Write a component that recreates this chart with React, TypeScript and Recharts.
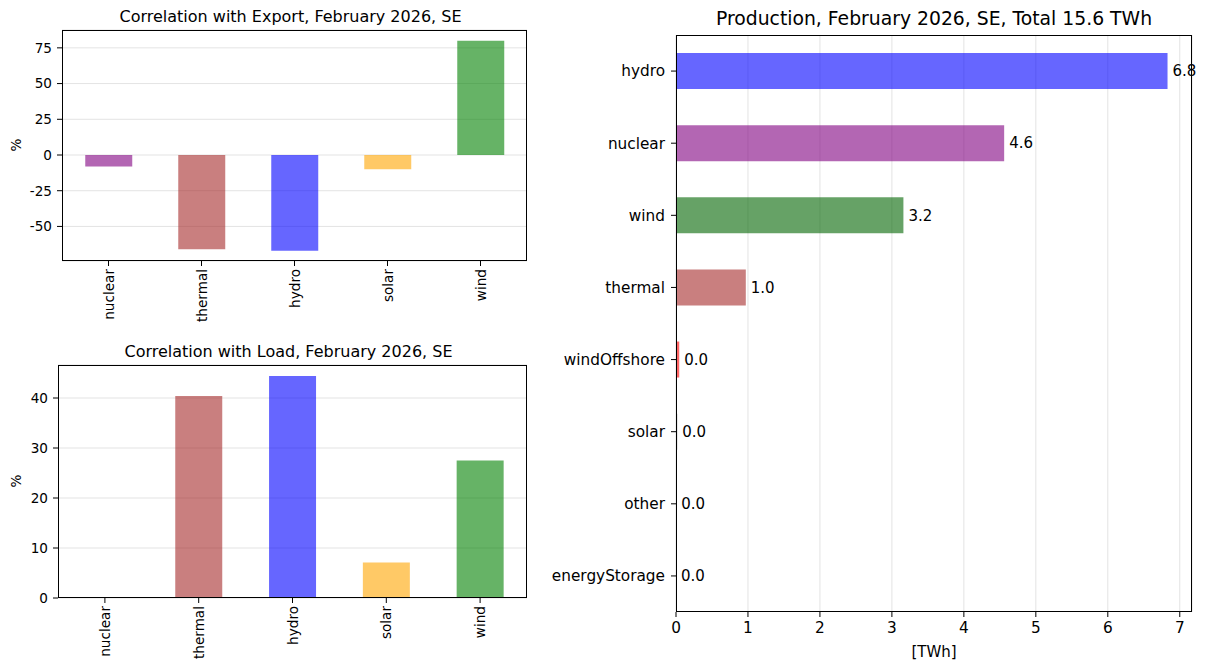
import { BarChart, Bar, XAxis, YAxis, CartesianGrid, Cell, LabelList } from 'recharts'

const FONT = '"DejaVu Sans", Verdana, sans-serif'

// correlation panels
const corrCats = ['nuclear', 'thermal', 'hydro', 'solar', 'wind']
const exportCorr = [-8, -66, -67, -10, 80]
const loadCorr = [0, 40.4, 44.4, 7.1, 27.5]
const corrColors = ['#800080', '#a52a2a', '#0000ff', '#ffa500', '#008000']
const exportTicks = [-50, -25, 0, 25, 50, 75]
const loadTicks = [0, 10, 20, 30, 40]

// production panel
const prodCats = ['hydro', 'nuclear', 'wind', 'thermal', 'windOffshore', 'solar', 'other', 'energyStorage']
const prodTWh = [6.83, 4.56, 3.16, 0.97, 0.045, 0.016, 0.002, 0.001]
const prodColors = ['#0000ff', '#800080', '#006400', '#a52a2a', '#ff0000', '#000000', '#000000', '#000000']
const prodTicks = [0, 1, 2, 3, 4, 5, 6, 7]

const GRID = { stroke: '#b0b0b0', strokeOpacity: 0.35 }

const VerticalTick = (props: any) => {
  const { x, y, payload } = props
  return (
    <text x={x} y={y} transform={`rotate(-90, ${x}, ${y})`} textAnchor="end"
      dominantBaseline="central" fontSize={13.6} fill="#000" fontFamily={FONT}>
      {payload.value}
    </text>
  )
}

interface CorrProps {
  title: string
  values: number[]
  ticks: number[]
  domain: [number, number]
  top: number
  height: number
  margin: { top: number; right: number; left: number; bottom: number }
  yWidth: number
}

function CorrChart({ title, values, ticks, domain, top, height, margin, yWidth }: CorrProps) {
  const data = corrCats.map((name, i) => ({ name, value: values[i] }))
  const width = 540
  const plotL = margin.left + yWidth
  const plotW = width - plotL - margin.right
  const plotH = height - margin.top - margin.bottom - 70
  return (
    <div style={{ position: 'absolute', left: 0, top, width, height }}>
      <div style={{ position: 'absolute', left: plotL - 4, width: plotW, top: margin.top - 23, textAlign: 'center',
        fontSize: 16, lineHeight: '20px', fontFamily: FONT, whiteSpace: 'nowrap' }}>{title}</div>
      <div style={{ position: 'absolute', left: 8, top: margin.top + plotH / 2 - 11, width: 16, height: 20,
        transform: 'rotate(-90deg)', fontSize: 13.6, lineHeight: '20px', textAlign: 'center', fontFamily: FONT }}>%</div>
      <BarChart width={width} height={height} data={data} margin={margin} barCategoryGap="25%">
        <CartesianGrid vertical={false} {...GRID} />
        <XAxis dataKey="name" height={70} interval={0} tick={<VerticalTick />} axisLine={false}
          tickSize={5} tickMargin={3} tickLine={{ stroke: '#000' }} />
        <YAxis width={yWidth} domain={domain} ticks={ticks} type="number" allowDataOverflow
          axisLine={false} tickSize={5} tickMargin={5} tickLine={{ stroke: '#000' }}
          tick={{ fill: '#000', fontSize: 13.6, fontFamily: FONT }} />
        <Bar dataKey="value" isAnimationActive={false} fillOpacity={0.6}>
          {data.map((d, i) => <Cell key={d.name} fill={corrColors[i]} />)}
        </Bar>
      </BarChart>
      <div style={{ position: 'absolute', left: plotL, top: margin.top, width: plotW, height: plotH,
        border: '1px solid #000', boxSizing: 'border-box', pointerEvents: 'none' }} />
    </div>
  )
}

function ProductionChart() {
  const data = prodCats.map((name, i) => ({ name, value: prodTWh[i] }))
  const width = 668
  const height = 672
  const margin = { top: 35, right: 16, left: 0, bottom: 30 }
  const yWidth = 136
  const plotL = margin.left + yWidth
  const plotW = width - plotL - margin.right
  const plotH = height - margin.top - margin.bottom - 30
  return (
    <div style={{ position: 'absolute', left: 540, top: 0, width, height }}>
      <div style={{ position: 'absolute', left: plotL - 40, width: plotW + 80, top: 6.5, textAlign: 'center',
        fontSize: 18.8, lineHeight: '24px', fontFamily: FONT, whiteSpace: 'nowrap' }}>
        Production, February 2026, SE, Total 15.6 TWh
      </div>
      <BarChart width={width} height={height} data={data} layout="vertical" margin={margin} barCategoryGap="25%">
        <CartesianGrid horizontal={false} {...GRID} />
        <XAxis type="number" domain={[0, 7.17]} ticks={prodTicks} height={30} axisLine={false}
          tickSize={5} tickMargin={5} tickLine={{ stroke: '#000' }}
          tick={{ fill: '#000', fontSize: 15.3, fontFamily: FONT }} />
        <YAxis type="category" dataKey="name" width={yWidth} interval={0} axisLine={false}
          tickSize={5} tickMargin={6} tickLine={{ stroke: '#000' }}
          tick={{ fill: '#000', fontSize: 15.3, fontFamily: FONT }} />
        <Bar dataKey="value" isAnimationActive={false} fillOpacity={0.6}>
          {data.map((d, i) => <Cell key={d.name} fill={prodColors[i]} />)}
          <LabelList dataKey="value" position="right" offset={5} fill="#000" fontSize={15}
            fontFamily={FONT} formatter={(v: any) => Number(v).toFixed(1)} />
        </Bar>
      </BarChart>
      <div style={{ position: 'absolute', left: plotL, top: margin.top, width: plotW, height: plotH,
        border: '1px solid #000', boxSizing: 'border-box', pointerEvents: 'none' }} />
      <div style={{ position: 'absolute', left: plotL, width: plotW, top: 642, textAlign: 'center',
        fontSize: 15, lineHeight: '20px', fontFamily: FONT }}>[TWh]</div>
    </div>
  )
}

export default function App() {
  return (
    <div style={{ position: 'absolute', left: 0, top: 0, width: 1208, height: 672, background: '#fff', fontFamily: FONT }}>
      <CorrChart title="Correlation with Export, February 2026, SE" values={exportCorr} ticks={exportTicks}
        domain={[-74.2, 87.5]} top={0} height={340} margin={{ top: 30, right: 13, left: 22, bottom: 9 }} yWidth={40} />
      <CorrChart title="Correlation with Load, February 2026, SE" values={loadCorr} ticks={loadTicks}
        domain={[0, 46.6]} top={330} height={342} margin={{ top: 35, right: 13, left: 22, bottom: 4 }} yWidth={36} />
      <ProductionChart />
    </div>
  )
}
